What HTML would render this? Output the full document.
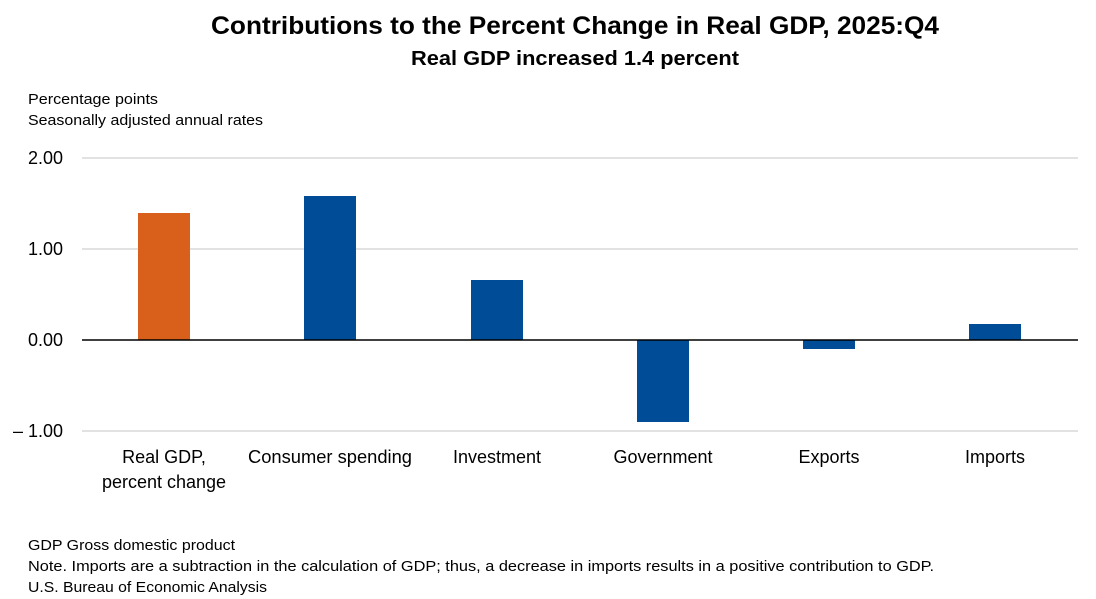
<!DOCTYPE html>
<html><head><meta charset="utf-8"><style>
html,body{margin:0;padding:0;background:#fff;}
svg{display:block;font-family:"Liberation Sans",sans-serif;}
</style></head><body>
<svg width="1096" height="599" viewBox="0 0 1096 599" xmlns="http://www.w3.org/2000/svg">
<rect width="1096" height="599" fill="#fff"/>
<text x="575" y="34" text-anchor="middle" font-size="25" font-weight="bold" textLength="728" lengthAdjust="spacingAndGlyphs">Contributions to the Percent Change in Real GDP, 2025:Q4</text>
<text x="575" y="65" text-anchor="middle" font-size="20" font-weight="bold" textLength="328" lengthAdjust="spacingAndGlyphs">Real GDP increased 1.4 percent</text>
<text x="28" y="104" font-size="15" textLength="130" lengthAdjust="spacingAndGlyphs">Percentage points</text>
<text x="28" y="125" font-size="15" textLength="235" lengthAdjust="spacingAndGlyphs">Seasonally adjusted annual rates</text>
<g stroke="#d9d9d9" stroke-width="1.5">
<line x1="82" y1="158" x2="1078" y2="158"/>
<line x1="82" y1="249" x2="1078" y2="249"/>
<line x1="82" y1="431" x2="1078" y2="431"/>
</g>
<g font-size="18" text-anchor="end">
<text x="63" y="164">2.00</text>
<text x="63" y="255">1.00</text>
<text x="63" y="346">0.00</text>
<text x="63" y="437">– 1.00</text>
</g>
<rect x="138" y="213" width="52" height="127" fill="#D9601B"/>
<rect x="304" y="196" width="52" height="144" fill="#004C97"/>
<rect x="471" y="280" width="52" height="60" fill="#004C97"/>
<rect x="637" y="340" width="52" height="82" fill="#004C97"/>
<rect x="803" y="340" width="52" height="9" fill="#004C97"/>
<rect x="969" y="324" width="52" height="16" fill="#004C97"/>
<line x1="82" y1="340" x2="1078" y2="340" stroke="#000" stroke-width="1.5"/>
<g font-size="18" text-anchor="middle">
<text x="164" y="463">Real GDP,</text>
<text x="164" y="488">percent change</text>
<text x="330" y="463" textLength="164" lengthAdjust="spacingAndGlyphs">Consumer spending</text>
<text x="497" y="463">Investment</text>
<text x="663" y="463">Government</text>
<text x="829" y="463">Exports</text>
<text x="995" y="463">Imports</text>
</g>
<g font-size="15">
<text x="28" y="550" textLength="207" lengthAdjust="spacingAndGlyphs">GDP Gross domestic product</text>
<text x="28" y="571" textLength="906" lengthAdjust="spacingAndGlyphs">Note. Imports are a subtraction in the calculation of GDP; thus, a decrease in imports results in a positive contribution to GDP.</text>
<text x="28" y="592" textLength="239" lengthAdjust="spacingAndGlyphs">U.S. Bureau of Economic Analysis</text>
</g>
</svg>
</body></html>
